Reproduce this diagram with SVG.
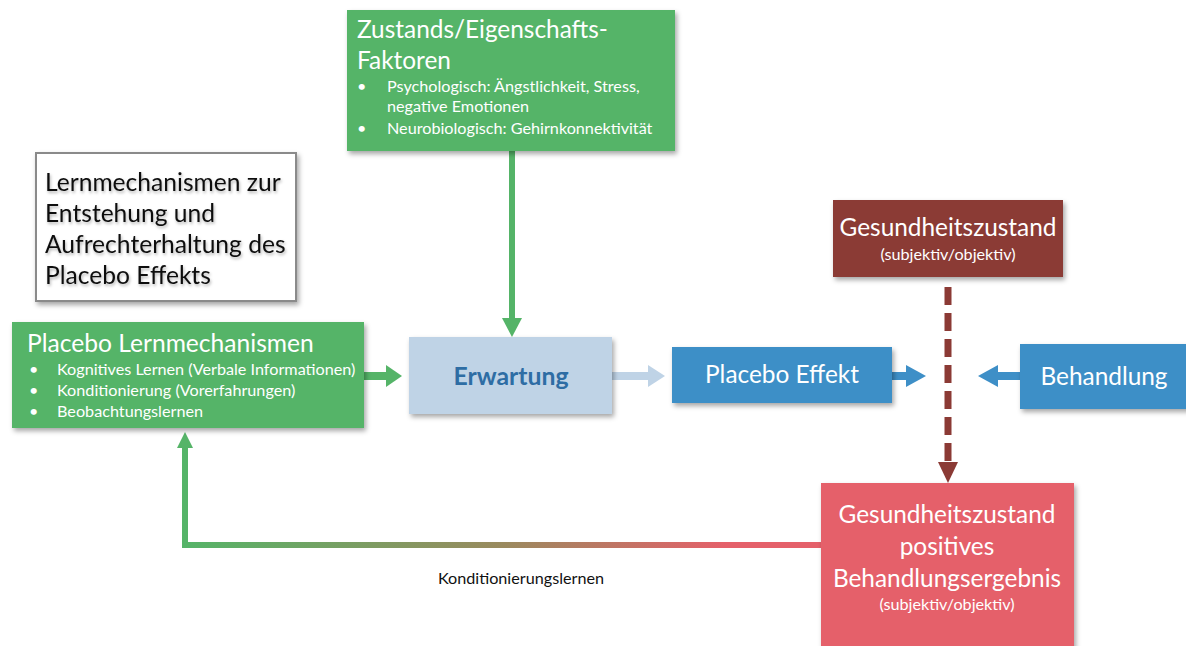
<svg xmlns="http://www.w3.org/2000/svg" width="1186" height="646" viewBox="0 0 1186 646">
<style>
text{font-family:Lato,"Open Sans","Liberation Sans",sans-serif}
.w{fill:#fff}
.big{font-size:24.4px}
.sm{font-size:16.2px}
.title{font-size:24.6px;fill:#111}
</style>
<defs>
<filter id="sh" x="-10%" y="-10%" width="125%" height="130%">
<feDropShadow dx="2" dy="3" stdDeviation="2.5" flood-color="#000" flood-opacity="0.35"/>
</filter>
<filter id="tsh" x="-10%" y="-20%" width="130%" height="160%">
<feDropShadow dx="1" dy="2" stdDeviation="1.5" flood-color="#000" flood-opacity="0.3"/>
</filter>
<linearGradient id="fb" gradientUnits="userSpaceOnUse" x1="185" y1="0" x2="821" y2="0">
<stop offset="0" stop-color="#55B468"/>
<stop offset="0.5" stop-color="#9A8A5E"/>
<stop offset="0.85" stop-color="#E5606A"/>
<stop offset="1" stop-color="#E5606A"/>
</linearGradient>
</defs>

<g id="connectors">
<line x1="512" y1="151" x2="512" y2="320" stroke="#55B468" stroke-width="6"/>
<polygon points="502,318 522,318 512,337" fill="#55B468"/>
<line x1="364" y1="376" x2="388" y2="376" stroke="#55B468" stroke-width="8"/>
<polygon points="386,365 386,387 402,376" fill="#55B468"/>
<line x1="612" y1="376" x2="650" y2="376" stroke="#BFD3E6" stroke-width="8"/>
<polygon points="648,365 648,387 665,376" fill="#BFD3E6"/>
<line x1="892" y1="376" x2="908" y2="376" stroke="#3E8FC7" stroke-width="8"/>
<polygon points="906,365 906,387 926,376" fill="#3E8FC7"/>
<line x1="1020" y1="376" x2="995" y2="376" stroke="#3E8FC7" stroke-width="8"/>
<polygon points="998,365 998,387 978,376" fill="#3E8FC7"/>
<line x1="948" y1="287" x2="948" y2="463" stroke="#8B3A35" stroke-width="7" stroke-dasharray="18,8"/>
<polygon points="938,462 958,462 948,483" fill="#8B3A35"/>
<polyline points="821,545 185,545 185,446" fill="none" stroke="url(#fb)" stroke-width="6"/>
<polygon points="177,448 193,448 185,432" fill="#55B468"/>
<text x="521" y="584" text-anchor="middle" class="sm" fill="#111">Konditionierungslernen</text>
</g>

<g id="title-box">
<rect x="36" y="153" width="260" height="148" fill="#fff" stroke="#8a8a8a" stroke-width="2" filter="url(#sh)"/>
<g filter="url(#tsh)">
<text x="45" y="191" class="title">Lernmechanismen zur</text>
<text x="45" y="222" class="title">Entstehung und</text>
<text x="45" y="253" class="title">Aufrechterhaltung des</text>
<text x="45" y="284" class="title">Placebo Effekts</text>
</g>
</g>

<g id="zustand">
<rect x="347" y="10" width="328" height="141" fill="#55B468" filter="url(#sh)"/>
<text x="357" y="38" class="w big">Zustands/Eigenschafts-</text>
<text x="357" y="69" class="w big">Faktoren</text>
<text x="357" y="92" class="w sm">•</text>
<text x="387" y="92" class="w sm">Psychologisch: Ängstlichkeit, Stress,</text>
<text x="387" y="112" class="w sm">negative Emotionen</text>
<text x="357" y="134" class="w sm">•</text>
<text x="387" y="134" class="w sm">Neurobiologisch: Gehirnkonnektivität</text>
</g>

<g id="lernmechanismen">
<rect x="12" y="322" width="352" height="106" fill="#55B468" filter="url(#sh)"/>
<text x="27" y="352" class="w" font-size="24.6">Placebo Lernmechanismen</text>
<text x="29" y="375" class="w sm">•</text>
<text x="57" y="375" class="w sm">Kognitives Lernen (Verbale Informationen)</text>
<text x="29" y="396" class="w sm">•</text>
<text x="57" y="396" class="w sm">Konditionierung (Vorerfahrungen)</text>
<text x="29" y="417" class="w sm">•</text>
<text x="57" y="417" class="w sm">Beobachtungslernen</text>
</g>

<g id="erwartung">
<rect x="409" y="337" width="203" height="77" fill="#BFD3E6" filter="url(#sh)"/>
<text x="511" y="385" text-anchor="middle" font-size="24.8" font-weight="bold" fill="#2E6DA4">Erwartung</text>
</g>

<g id="placebo-effekt">
<rect x="672" y="347" width="220" height="56" fill="#3E8FC7" filter="url(#sh)"/>
<text x="782" y="383" text-anchor="middle" class="w big">Placebo Effekt</text>
</g>

<g id="behandlung">
<rect x="1020" y="344" width="170" height="65" fill="#3E8FC7" filter="url(#sh)"/>
<text x="1104" y="385" text-anchor="middle" class="w big">Behandlung</text>
</g>

<g id="gesundheit-top">
<rect x="833" y="200" width="230" height="77" fill="#8B3A35" filter="url(#sh)"/>
<text x="948" y="236" text-anchor="middle" class="w big">Gesundheitszustand</text>
<text x="948" y="260" text-anchor="middle" class="w sm">(subjektiv/objektiv)</text>
</g>

<g id="gesundheit-bottom">
<rect x="821" y="483" width="253" height="170" fill="#E5606A" filter="url(#sh)"/>
<text x="947" y="523" text-anchor="middle" class="w big">Gesundheitszustand</text>
<text x="947" y="555" text-anchor="middle" class="w big">positives</text>
<text x="947" y="587" text-anchor="middle" class="w big">Behandlungsergebnis</text>
<text x="947" y="610" text-anchor="middle" class="w sm">(subjektiv/objektiv)</text>
</g>
</svg>
